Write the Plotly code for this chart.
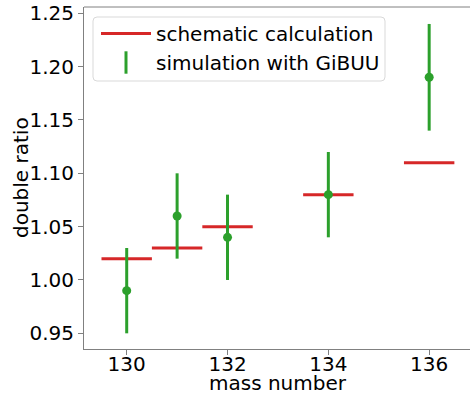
import plotly.graph_objects as go

# Data
mass_numbers = [130, 131, 132, 134, 136]
schematic = [1.02, 1.03, 1.05, 1.08, 1.11]
gibuu = [0.99, 1.06, 1.04, 1.08, 1.19]
gibuu_err = [0.04, 0.04, 0.04, 0.04, 0.05]
half_width = 0.5
y_ticks = [0.95, 1.00, 1.05, 1.10, 1.15, 1.20, 1.25]
x_ticks = [130, 132, 134, 136]

RED = "#d62728"
GREEN = "#2ca02c"
FONT = "DejaVu Sans"
FS = 20

W, H = 470, 396
L, R, T, B = 84, 0, 7, 47
PW = W - L - R
PH = H - T - B


def px(x):
    return (x - L) / PW


def py(y):
    return 1 - (y - T) / PH


hx, hy = [], []
for m, v in zip(mass_numbers, schematic):
    hx += [m - half_width, m + half_width, None]
    hy += [v, v, None]

fig = go.Figure()
fig.add_trace(go.Scatter(x=hx, y=hy, mode="lines", line=dict(color=RED, width=3),
                         name="schematic calculation", showlegend=True))
fig.add_trace(go.Scatter(x=mass_numbers, y=gibuu, mode="markers",
                         marker=dict(color=GREEN, size=9),
                         error_y=dict(type="data", array=gibuu_err, color=GREEN,
                                      thickness=3, width=0),
                         showlegend=False, name="simulation with GiBUU"))
# legend entry: vertical line symbol
fig.add_trace(go.Scatter(x=[None], y=[None], mode="markers",
                         marker=dict(symbol="line-ns-open", size=22, color=GREEN,
                                     line=dict(color=GREEN, width=3)),
                         name="simulation with GiBUU", showlegend=True))

# rounded legend frame
x0, x1, y0, y1, r = 93, 385, 17, 81, 4
path = (f"M{px(x0 + r)},{py(y0)} L{px(x1 - r)},{py(y0)} Q{px(x1)},{py(y0)} {px(x1)},{py(y0 + r)} "
        f"L{px(x1)},{py(y1 - r)} Q{px(x1)},{py(y1)} {px(x1 - r)},{py(y1)} "
        f"L{px(x0 + r)},{py(y1)} Q{px(x0)},{py(y1)} {px(x0)},{py(y1 - r)} "
        f"L{px(x0)},{py(y0 + r)} Q{px(x0)},{py(y0)} {px(x0 + r)},{py(y0)} Z")

fig.update_layout(
    width=W, height=H,
    margin=dict(l=L, r=R, t=T, b=B, autoexpand=False),
    paper_bgcolor="white", plot_bgcolor="white",
    font=dict(family=FONT, size=FS, color="black"),
    showlegend=True,
    legend=dict(x=px(96), y=py(14), xanchor="left", yanchor="top",
                bgcolor="rgba(0,0,0,0)", borderwidth=0,
                font=dict(size=FS, family=FONT), itemwidth=50),
    shapes=[
        dict(type="path", xref="paper", yref="paper", path=path,
             fillcolor="rgba(255,255,255,0.8)", line=dict(color="#d9d9d9", width=1),
             layer="above"),
        # top spine (right spine lies outside the picture)
        dict(type="line", xref="paper", yref="paper", x0=0, x1=1, y0=1, y1=1,
             line=dict(color="#808080", width=1), layer="above"),
    ],
    xaxis=dict(range=[129.153, 136.81], tickvals=x_ticks, ticktext=[str(t) for t in x_ticks],
               showgrid=False, zeroline=False, showline=True, linecolor="#808080", linewidth=1,
               mirror=False, ticks="outside", ticklen=5, tickcolor="#808080", automargin=False,
               ticklabelstandoff=-8),
    yaxis=dict(range=[0.9353, 1.2559], tickvals=y_ticks, ticktext=[f"{t:.2f}" for t in y_ticks],
               showgrid=False, zeroline=False, showline=True, linecolor="#808080", linewidth=1,
               mirror=False, ticks="outside", ticklen=5, tickcolor="#808080", automargin=False),
    annotations=[
        dict(text="mass number", xref="paper", yref="paper", x=px(278), y=py(383),
             xanchor="center", yanchor="middle", showarrow=False, font=dict(size=FS)),
        dict(text="double ratio", xref="paper", yref="paper", x=px(21), y=0.5,
             xanchor="center", yanchor="middle", textangle=-90, showarrow=False, font=dict(size=FS)),
    ],
)

fig.write_html("out.html", config={"displayModeBar": False},
               post_script="document.body.style.margin='0';document.body.style.overflow='hidden';")
